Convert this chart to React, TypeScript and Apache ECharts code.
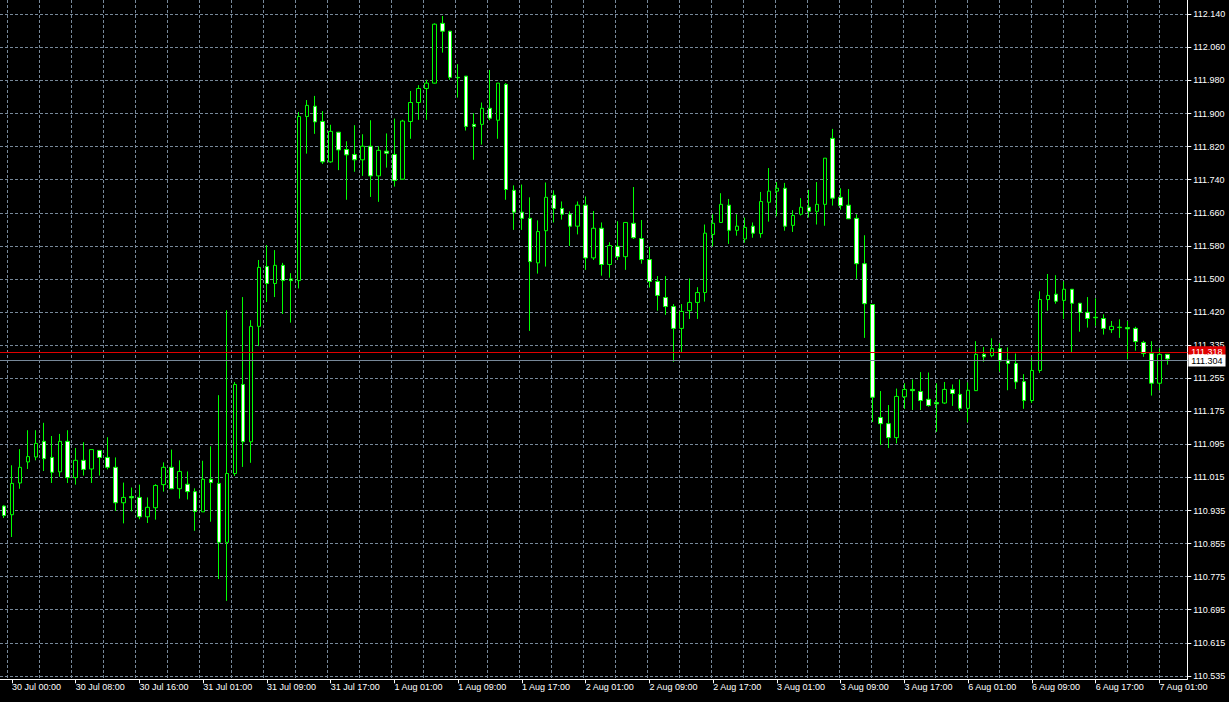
import { useEffect, useRef } from "react";
import * as echarts from "echarts";

// Trading days and the hours each one holds (31 Jul 00:00 is missing, weekend skipped)
const daySegments: [string, number, number][] = [
  ["29 Jul", 23, 23],
  ["30 Jul", 0, 23],
  ["31 Jul", 1, 23],
  ["1 Aug", 0, 23],
  ["2 Aug", 0, 23],
  ["3 Aug", 0, 23],
  ["6 Aug", 0, 23],
  ["7 Aug", 0, 2],
];

// H1 candles, index 0 .. 146
const opens = [
  110.947, 110.926, 111.003, 111.054, 111.066, 111.104, 111.065, 111.030, 111.104, 111.016,
  111.058, 111.037, 111.082, 111.065, 111.041, 110.955, 110.970, 110.968, 110.921, 110.943,
  110.999, 111.041, 110.989, 111.000, 110.982, 110.933, 111.012, 111.002, 110.859, 111.026,
  111.242, 111.103, 111.383, 111.528, 111.487, 111.531, 111.498, 111.494, 111.892, 111.917,
  111.880, 111.782, 111.854, 111.812, 111.800, 111.787, 111.820, 111.748, 111.808, 111.800,
  111.740, 111.880, 111.926, 111.960, 111.973, 112.118, 112.099, 111.987, 111.990, 111.873,
  111.873, 111.912, 111.883, 111.970, 111.713, 111.660, 111.645, 111.537, 111.615, 111.701,
  111.669, 111.655, 111.626, 111.677, 111.549, 111.621, 111.533, 111.577, 111.552, 111.633,
  111.596, 111.545, 111.492, 111.453, 111.431, 111.378, 111.421, 111.441, 111.465, 111.606,
  111.635, 111.677, 111.616, 111.595, 111.626, 111.608, 111.684, 111.711, 111.718, 111.628,
  111.655, 111.672, 111.662, 111.679, 111.839, 111.696, 111.677, 111.645, 111.535, 111.436,
  111.162, 111.147, 111.113, 111.212, 111.230, 111.225, 111.206, 111.198, 111.197, 111.230,
  111.218, 111.184, 111.227, 111.315, 111.312, 111.329, 111.301, 111.293, 111.249, 111.203,
  111.276, 111.448, 111.461, 111.446, 111.473, 111.439, 111.417, 111.405, 111.402, 111.375,
  111.381, 111.380, 111.378, 111.344, 111.317, 111.245, 111.315,
];
const highs = [
  110.949, 111.046, 111.085, 111.131, 111.131, 111.149, 111.117, 111.122, 111.131, 111.088,
  111.102, 111.084, 111.082, 111.114, 111.065, 111.004, 110.992, 110.999, 110.968, 111.000,
  111.053, 111.084, 111.058, 111.031, 110.990, 111.057, 111.092, 111.216, 111.422, 111.248,
  111.454, 111.398, 111.544, 111.580, 111.568, 111.537, 111.512, 111.903, 111.932, 111.942,
  111.905, 111.872, 111.854, 111.832, 111.871, 111.849, 111.883, 111.820, 111.851, 111.887,
  111.884, 111.954, 111.968, 111.981, 112.118, 112.136, 112.099, 112.019, 111.990, 111.900,
  111.926, 112.005, 111.973, 111.973, 111.725, 111.727, 111.696, 111.640, 111.732, 111.713,
  111.686, 111.662, 111.686, 111.698, 111.663, 111.635, 111.587, 111.638, 111.635, 111.721,
  111.641, 111.576, 111.505, 111.505, 111.437, 111.437, 111.499, 111.478, 111.630, 111.655,
  111.706, 111.692, 111.655, 111.647, 111.635, 111.709, 111.767, 111.733, 111.731, 111.665,
  111.694, 111.714, 111.733, 111.791, 111.862, 111.718, 111.716, 111.655, 111.604, 111.437,
  111.226, 111.192, 111.232, 111.245, 111.254, 111.272, 111.271, 111.245, 111.248, 111.242,
  111.254, 111.247, 111.347, 111.333, 111.354, 111.342, 111.332, 111.317, 111.267, 111.309,
  111.468, 111.510, 111.507, 111.492, 111.473, 111.439, 111.454, 111.451, 111.412, 111.396,
  111.400, 111.396, 111.382, 111.348, 111.347, 111.330, 111.315,
];
const lows = [
  110.918, 110.872, 110.989, 111.037, 111.058, 111.032, 111.003, 111.018, 111.003, 110.999,
  111.021, 111.003, 111.021, 111.036, 110.935, 110.905, 110.934, 110.915, 110.906, 110.914,
  110.982, 110.988, 110.965, 110.963, 110.887, 110.933, 110.909, 110.770, 110.717, 111.020,
  111.042, 111.052, 111.335, 111.442, 111.454, 111.413, 111.392, 111.475, 111.802, 111.850,
  111.777, 111.780, 111.762, 111.690, 111.758, 111.748, 111.697, 111.685, 111.768, 111.722,
  111.739, 111.838, 111.884, 111.884, 111.972, 112.047, 111.981, 111.938, 111.858, 111.787,
  111.824, 111.883, 111.838, 111.690, 111.617, 111.617, 111.372, 111.511, 111.528, 111.635,
  111.642, 111.578, 111.606, 111.520, 111.544, 111.506, 111.501, 111.544, 111.520, 111.595,
  111.535, 111.477, 111.421, 111.411, 111.297, 111.319, 111.401, 111.401, 111.443, 111.577,
  111.635, 111.583, 111.603, 111.586, 111.598, 111.598, 111.637, 111.650, 111.615, 111.612,
  111.652, 111.647, 111.630, 111.627, 111.676, 111.666, 111.644, 111.498, 111.355, 111.151,
  111.095, 111.088, 111.099, 111.183, 111.180, 111.180, 111.188, 111.127, 111.195, 111.190,
  111.178, 111.150, 111.226, 111.297, 111.308, 111.273, 111.228, 111.231, 111.183, 111.197,
  111.270, 111.421, 111.438, 111.401, 111.319, 111.370, 111.380, 111.384, 111.363, 111.367,
  111.355, 111.303, 111.324, 111.309, 111.215, 111.228, 111.290,
];
const closes = [
  110.924, 111.002, 111.041, 111.067, 111.099, 111.062, 111.029, 111.104, 111.016, 111.058,
  111.036, 111.084, 111.065, 111.041, 110.955, 110.968, 110.967, 110.921, 110.944, 110.997,
  111.041, 110.989, 111.031, 110.982, 110.934, 111.012, 111.004, 110.859, 111.026, 111.242,
  111.103, 111.383, 111.526, 111.487, 111.531, 111.494, 111.494, 111.892, 111.919, 111.879,
  111.782, 111.856, 111.811, 111.799, 111.787, 111.820, 111.748, 111.810, 111.803, 111.737,
  111.881, 111.926, 111.960, 111.973, 112.116, 112.099, 111.987, 111.986, 111.868, 111.868,
  111.912, 111.888, 111.973, 111.715, 111.660, 111.645, 111.540, 111.613, 111.696, 111.669,
  111.655, 111.626, 111.677, 111.549, 111.621, 111.533, 111.579, 111.552, 111.635, 111.598,
  111.545, 111.492, 111.458, 111.431, 111.378, 111.419, 111.441, 111.465, 111.609, 111.633,
  111.679, 111.616, 111.626, 111.623, 111.609, 111.686, 111.711, 111.718, 111.626, 111.652,
  111.672, 111.662, 111.679, 111.791, 111.694, 111.676, 111.644, 111.535, 111.438, 111.211,
  111.147, 111.113, 111.213, 111.230, 111.227, 111.203, 111.191, 111.195, 111.230, 111.220,
  111.184, 111.228, 111.315, 111.309, 111.329, 111.299, 111.293, 111.248, 111.203, 111.276,
  111.448, 111.458, 111.444, 111.473, 111.439, 111.417, 111.402, 111.404, 111.378, 111.383,
  111.380, 111.377, 111.346, 111.317, 111.245, 111.315, 111.304,
];

// Price scale tick labels, bottom to top
const priceTickLabels = [
  "110.535", "110.615", "110.695", "110.775", "110.855", "110.935", "111.015",
  "111.095", "111.175", "111.255", "111.335", "111.420", "111.500", "111.580",
  "111.660", "111.740", "111.820", "111.900", "111.980", "112.060", "112.140",
];
const priceMin = 110.535;
const priceMax = 112.14;

const bidPrice = 111.304;
const askPrice = 111.318;

// ---- layout ----
const FONT = "'Liberation Sans', Arial, sans-serif";
const GRID_COLOR = "#778899";
const DASH = [3, 2];
const STEP = 8; // px per candle
const GRID_LEFT = -4.67;
const EMPTY_SLOTS = 2;
const PLOT_TOP = 14.3;
const PLOT_BOTTOM = 675.9;
const AXIS_Y = 679.3;
const LABEL_EVERY = 8;

function buildCategories(): string[] {
  const out: string[] = [];
  for (const [d, a, b] of daySegments) {
    for (let h = a; h <= b; h++) out.push(`${d} ${String(h).padStart(2, "0")}:00`);
  }
  return out;
}

function buildOption() {
  const categories = buildCategories();
  const slots = categories.length + EMPTY_SLOTS;
  const axisCategories = [...categories, ...Array(EMPTY_SLOTS).fill("")];
  const plotWidth = slots * STEP;
  const showEvery = (i: number) => i % LABEL_EVERY === 1 && i < categories.length;
  const candleData = opens.map((o, i) => [o, closes[i], lows[i], highs[i]]);
  const steps = priceTickLabels.length - 1;

  return {
    animation: false,
    backgroundColor: "#000000",
    grid: [
      { left: GRID_LEFT, top: PLOT_TOP, width: plotWidth, height: PLOT_BOTTOM - PLOT_TOP, show: false },
      { left: GRID_LEFT + STEP * 1.5, top: 0, width: (slots - 1.5) * STEP, height: AXIS_Y, show: false },
    ],
    xAxis: [
      {
        gridIndex: 0,
        type: "category",
        data: axisCategories,
        boundaryGap: true,
        offset: AXIS_Y - PLOT_BOTTOM,
        axisLine: { show: true, onZero: false, lineStyle: { color: "#ffffff", width: 1 } },
        axisTick: {
          show: true,
          alignWithLabel: true,
          interval: (i: number) => showEvery(i),
          length: 4,
          lineStyle: { color: "#ffffff" },
        },
        axisLabel: {
          interval: (i: number) => showEvery(i),
          align: "left",
          color: "#ffffff",
          fontSize: 9,
          fontFamily: FONT,
          margin: 3,
        },
        splitLine: { show: false },
      },
      {
        gridIndex: 1,
        type: "value",
        min: 0,
        max: slots - 1.5,
        interval: 4,
        axisLine: { show: false, onZero: false },
        axisTick: { show: false },
        axisLabel: { show: false },
        splitLine: { show: true, lineStyle: { color: GRID_COLOR, type: DASH, width: 1 } },
      },
    ],
    yAxis: [
      {
        gridIndex: 0,
        type: "value",
        position: "right",
        min: 0,
        max: steps,
        interval: 1,
        axisLine: { show: false, onZero: false },
        axisTick: { show: true, length: 4, lineStyle: { color: "#ffffff" } },
        axisLabel: {
          color: "#ffffff",
          fontSize: 9,
          fontFamily: FONT,
          margin: 6,
          formatter: (v: number) => priceTickLabels[Math.round(v)] ?? "",
        },
        splitLine: { show: true, lineStyle: { color: GRID_COLOR, type: DASH, width: 1 } },
      },
      {
        gridIndex: 0,
        type: "value",
        min: priceMin,
        max: priceMax,
        show: false,
        scale: true,
        splitLine: { show: false },
      },
      {
        gridIndex: 1,
        type: "value",
        position: "right",
        min: 0,
        max: 1,
        axisLine: { show: true, onZero: false, lineStyle: { color: "#ffffff", width: 1 } },
        axisTick: { show: false },
        axisLabel: { show: false },
        splitLine: { show: false },
      },
    ],
    series: [
      {
        type: "candlestick",
        xAxisIndex: 0,
        yAxisIndex: 1,
        data: candleData,
        barWidth: 4,
        itemStyle: {
          color: "#000000",
          color0: "#ffffff",
          borderColor: "#00ff00",
          borderColor0: "#00ff00",
          borderColorDoji: "#00ff00",
          borderWidth: 1,
        },
        markLine: {
          silent: true,
          symbol: ["none", "none"],
          data: [
            {
              yAxis: askPrice,
              lineStyle: { color: "#e00000", type: "solid", width: 1 },
              label: {
                show: true,
                position: "end",
                distance: 1,
                formatter: askPrice.toFixed(3),
                backgroundColor: "#e00000",
                color: "#ffffff",
                fontSize: 9,
                fontFamily: FONT,
                lineHeight: 10,
                padding: [1, 3, 1, 3],
              },
            },
            {
              yAxis: bidPrice,
              lineStyle: { color: GRID_COLOR, type: "solid", width: 1 },
              label: {
                show: true,
                position: "end",
                distance: 1,
                formatter: bidPrice.toFixed(3),
                backgroundColor: "#ffffff",
                color: "#000000",
                fontSize: 9,
                fontFamily: FONT,
                lineHeight: 10,
                padding: [1, 3, 1, 3],
              },
            },
          ],
        },
      },
    ],
  };
}

export default function App() {
  const ref = useRef<HTMLDivElement>(null);
  useEffect(() => {
    if (!ref.current) return;
    const chart = echarts.init(ref.current, undefined, { renderer: "svg" });
    chart.setOption(buildOption() as any);
    return () => chart.dispose();
  }, []);
  return (
    <div
      ref={ref}
      style={{ position: "fixed", left: 0, top: 0, width: 1229, height: 702, background: "#000000" }}
    />
  );
}
